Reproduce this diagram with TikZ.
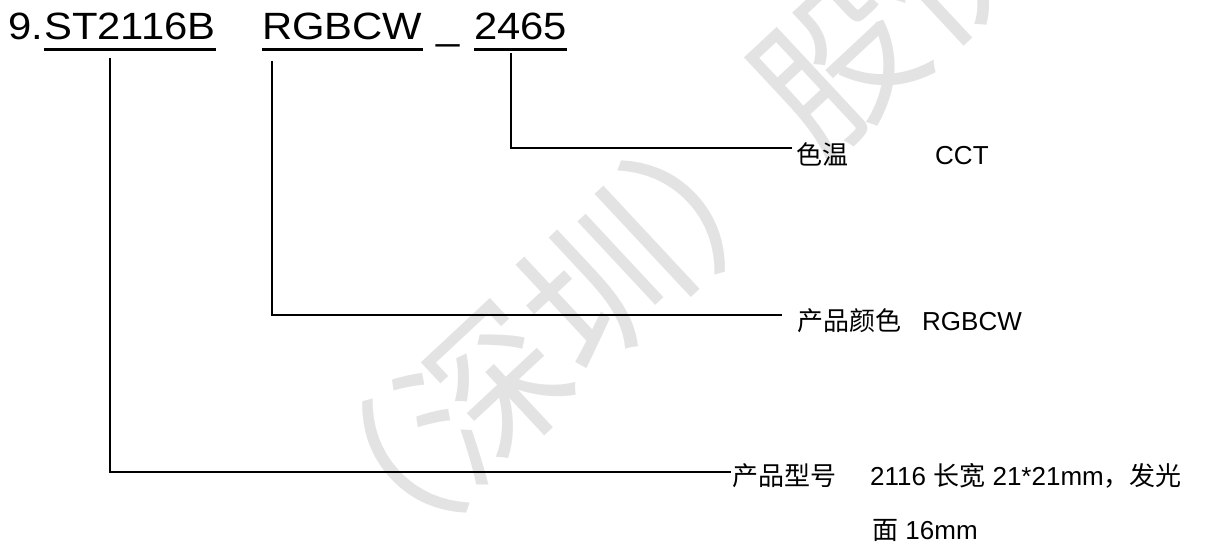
\documentclass[tikz,border=0pt]{standalone}
\usepackage{fontspec}
\setmainfont{Liberation Sans}
\newfontfamily\titlefont[FakeStretch=1.1]{Liberation Sans}
\newfontfamily\cjk{Noto Sans CJK SC}
\begin{document}
\begin{tikzpicture}[x=1pt,y=-1pt,
        word/.style={inner sep=0pt,anchor=base west,font=\titlefont\fontsize{38}{46}\selectfont},
        lbl/.style={inner sep=0pt,anchor=base west,font=\fontsize{26}{31}\selectfont},
        cjklbl/.style={lbl,font=\cjk\fontsize{26}{31}\selectfont},
        uline/.style={line width=2.7pt},
        lead/.style={line width=2.8pt},
        wmark/.style={inner sep=0pt,text=black!11,rotate=43,font=\cjk\fontsize{160}{160}\selectfont}]
            \useasboundingbox (0,0) rectangle (1214,545);

            \node[wmark] (wm) at (661,228) {（深圳）股份};

            \node[word] (nine) at (8,40) {9.};
            \node[word] (st) at (44,40) {ST2116B};
            \node[word] (rgb) at (262,40) {RGBCW};
            \node[word] (bar) at (436,40) {\_};
            \node[word] (cw) at (474,40) {2465};
            \foreach \w in {st,rgb,cw}
                \draw[uline] ([yshift=-9.5pt]\w.base west) -- ([yshift=-9.5pt]\w.base east);

            \node[cjklbl] (tempname) at (796,165) {色温};
            \node[lbl] (tempval) at (935,165) {CCT};
            \node[cjklbl] (colname) at (797,330) {产品颜色};
            \node[lbl] (colval) at (922,330) {RGBCW};
            \node[cjklbl] (modname) at (732,485) {产品型号};
            \node[lbl] (modval) at (870,485) {2116 {\cjk 长宽} 21*21mm{\cjk ，发光}};
            \node[lbl] (modval2) at (872,539) {{\cjk 面} 16mm};

            \coordinate (st-tap) at (110,58);
            \coordinate (rgb-tap) at (272,61);
            \coordinate (cw-tap) at (511,53);

            \draw[lead] (cw-tap) |- ([xshift=-4pt,yshift=17pt]tempname.base west);
            \draw[lead] (rgb-tap) |- ([xshift=-15pt,yshift=15pt]colname.base west);
            \draw[lead] (st-tap) |- ([xshift=-1pt,yshift=13pt]modname.base west);

        \end{tikzpicture}
\end{document}
